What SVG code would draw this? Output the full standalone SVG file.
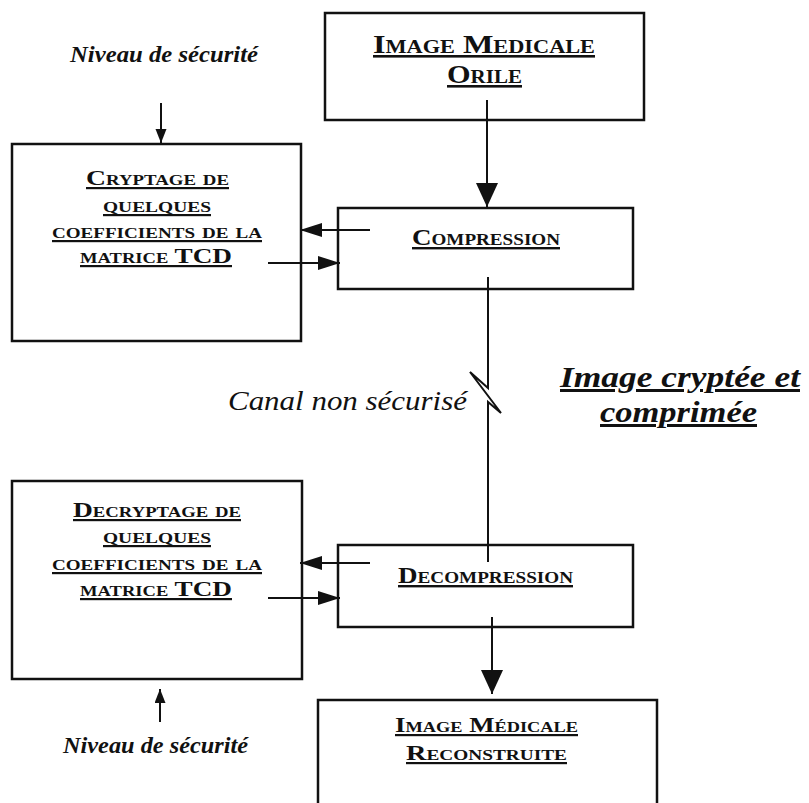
<svg xmlns="http://www.w3.org/2000/svg" width="809" height="803" viewBox="0 0 809 803" font-family="Liberation Serif, Times New Roman, Tinos, Noto Serif, DejaVu Serif, serif">
<style>
text{font-family:"Liberation Serif","Times New Roman",Tinos,"Noto Serif","DejaVu Serif",serif;fill:#111}
.box{fill:none;stroke:#111;stroke-width:2.5}
.ln{fill:none;stroke:#111;stroke-width:2}
.sc{font-weight:bold;font-variant:small-caps;text-decoration:underline}
.niv{font-weight:bold;font-style:italic;font-size:23px}
.canal{font-style:italic;font-size:28px}
.ic{font-weight:bold;font-style:italic;font-size:30px;text-decoration:underline}
</style>
<defs>
<marker id="big" markerUnits="userSpaceOnUse" markerWidth="26" markerHeight="26" refX="24" refY="12" orient="auto">
<path d="M0,1 L24,12 L0,23 Z" fill="#111"/>
</marker>
<marker id="mid" markerUnits="userSpaceOnUse" markerWidth="24" markerHeight="16" refX="22" refY="7" orient="auto">
<path d="M0,0 L22,7 L0,14 Z" fill="#111"/>
</marker>
<marker id="small" markerUnits="userSpaceOnUse" markerWidth="16" markerHeight="12" refX="14" refY="5.5" orient="auto">
<path d="M0,0 L14,5.5 L0,11 Z" fill="#111"/>
</marker>
</defs>

<g id="connectors">
<line class="ln" x1="487" y1="100" x2="487" y2="207" marker-end="url(#big)"/>
<line class="ln" x1="370" y1="230" x2="300" y2="230" marker-end="url(#mid)"/>
<line class="ln" x1="268" y1="263" x2="340" y2="263" marker-end="url(#mid)"/>
<line class="ln" x1="161" y1="103" x2="161" y2="143" marker-end="url(#small)"/>
<polyline class="ln" points="488,277 488,388 470,372 501,413 488,402 488,562"/>
<line class="ln" x1="370" y1="563" x2="300" y2="563" marker-end="url(#mid)"/>
<line class="ln" x1="268" y1="598" x2="340" y2="598" marker-end="url(#mid)"/>
<line class="ln" x1="160" y1="722" x2="160" y2="689" marker-end="url(#small)"/>
<line class="ln" x1="492" y1="617" x2="492" y2="694" marker-end="url(#big)"/>
</g>

<g id="image-originale">
<rect class="box" x="325" y="13" width="319" height="107"/>
<text class="sc" x="373" y="53" font-size="26" textLength="222" lengthAdjust="spacingAndGlyphs">Image  Medicale</text>
<text class="sc" x="447" y="83" font-size="26" textLength="75" lengthAdjust="spacingAndGlyphs">Orile</text>
</g>

<g id="niveau-haut">
<text class="niv" x="70" y="62" textLength="188" lengthAdjust="spacingAndGlyphs">Niveau de sécurité</text>
</g>

<g id="cryptage">
<rect class="box" x="12" y="144" width="289" height="197"/>
<text class="sc" x="86" y="185" font-size="22" textLength="143" lengthAdjust="spacingAndGlyphs">Cryptage de</text>
<text class="sc" x="103" y="212" font-size="22" textLength="108" lengthAdjust="spacingAndGlyphs">quelques</text>
<text class="sc" x="52" y="238" font-size="22" textLength="210" lengthAdjust="spacingAndGlyphs">coefficients de la</text>
<text class="sc" x="80" y="263" font-size="22" textLength="152" lengthAdjust="spacingAndGlyphs">matrice TCD</text>
</g>

<g id="compression">
<rect class="box" x="338" y="208" width="295" height="81"/>
<text class="sc" x="412" y="245" font-size="24" textLength="148" lengthAdjust="spacingAndGlyphs">Compression</text>
</g>

<g id="canal">
<text class="canal" x="228" y="410" textLength="239" lengthAdjust="spacingAndGlyphs">Canal non sécurisé</text>
</g>

<g id="image-cryptee">
<text class="ic" x="560" y="387" textLength="240" lengthAdjust="spacingAndGlyphs">Image cryptée et</text>
<text class="ic" x="600" y="422" textLength="157" lengthAdjust="spacingAndGlyphs">comprimée</text>
</g>

<g id="decryptage">
<rect class="box" x="12" y="481" width="290" height="198"/>
<text class="sc" x="73" y="517" font-size="22" textLength="168" lengthAdjust="spacingAndGlyphs">Decryptage de</text>
<text class="sc" x="103" y="543" font-size="22" textLength="108" lengthAdjust="spacingAndGlyphs">quelques</text>
<text class="sc" x="52" y="570" font-size="22" textLength="210" lengthAdjust="spacingAndGlyphs">coefficients de la</text>
<text class="sc" x="80" y="596" font-size="22" textLength="152" lengthAdjust="spacingAndGlyphs">matrice TCD</text>
</g>

<g id="decompression">
<rect class="box" x="338" y="545" width="295" height="82"/>
<text class="sc" x="398" y="583" font-size="24" textLength="175" lengthAdjust="spacingAndGlyphs">Decompression</text>
</g>

<g id="niveau-bas">
<text class="niv" x="63" y="753" textLength="185" lengthAdjust="spacingAndGlyphs">Niveau de sécurité</text>
</g>

<g id="image-reconstruite">
<path class="box" d="M318,806 V700 H657 V806"/>
<text class="sc" x="395" y="732" font-size="22" textLength="183" lengthAdjust="spacingAndGlyphs">Image Médicale</text>
<text class="sc" x="406" y="760" font-size="22" textLength="161" lengthAdjust="spacingAndGlyphs">Reconstruite</text>
</g>
</svg>
